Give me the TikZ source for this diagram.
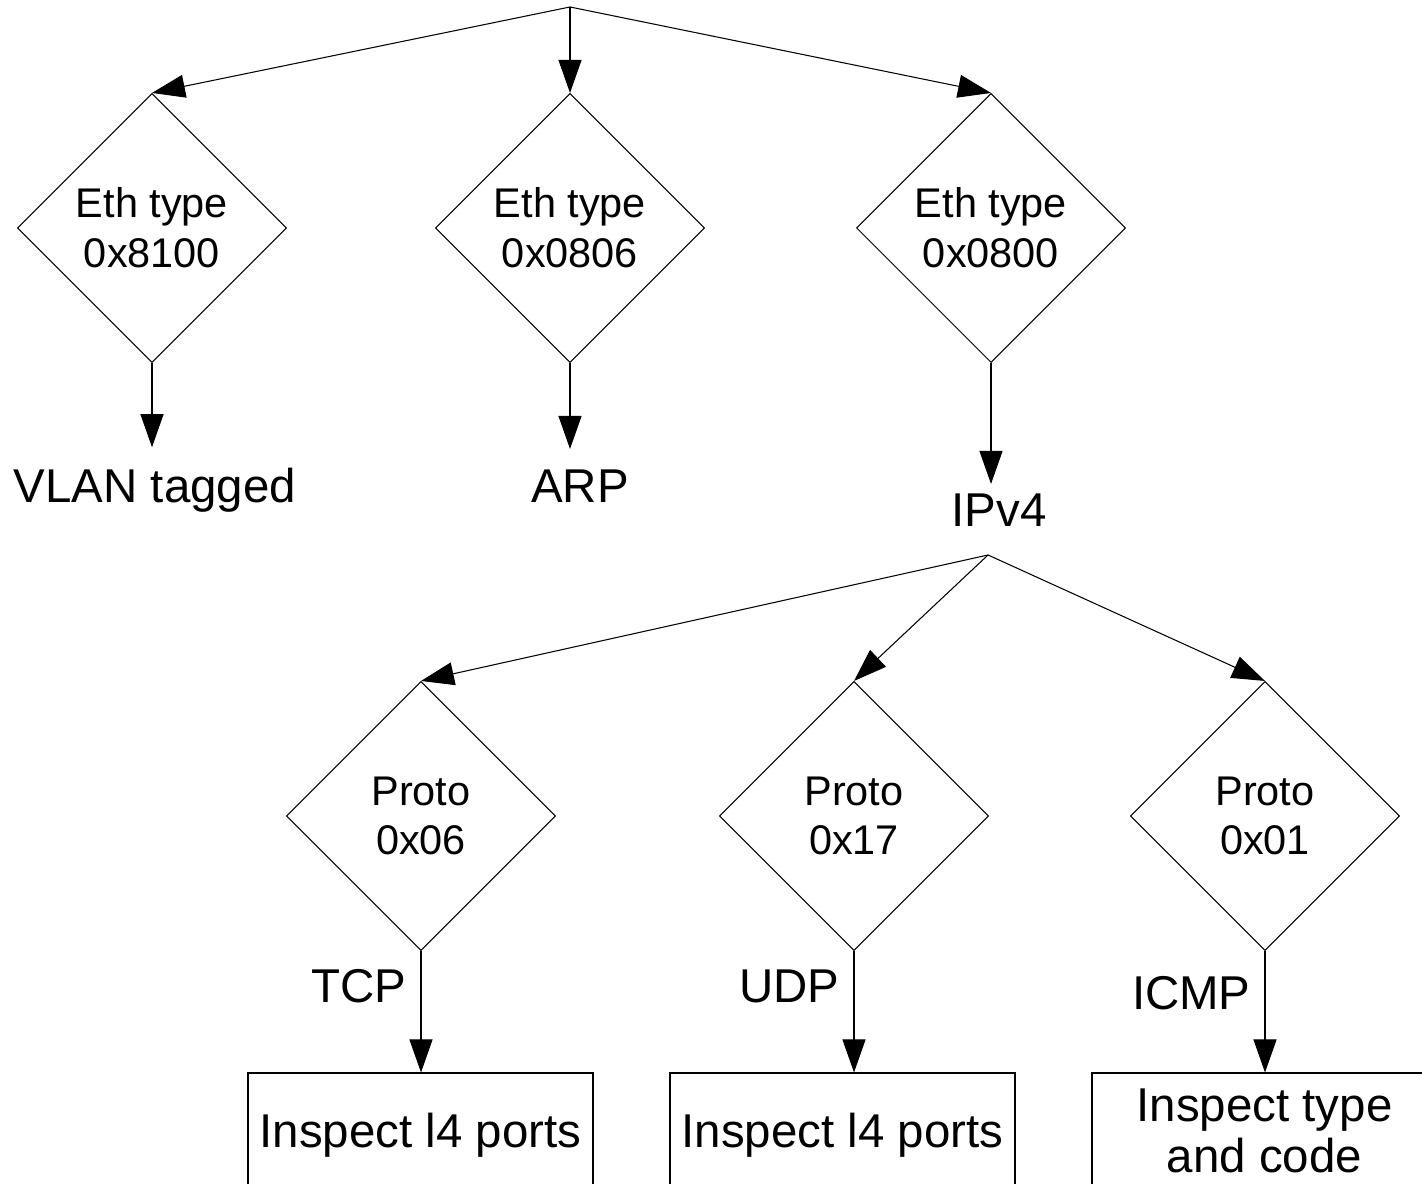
\documentclass[tikz,border=0pt]{standalone}
\usepackage{fontspec}
\setmainfont{Liberation Sans}
\usetikzlibrary{shapes.geometric,arrows.meta}

\begin{document}
\begin{tikzpicture}[line width=0.6pt,
            test/.style={diamond, draw, aspect=1, minimum width=5.38cm, minimum height=5.38cm, inner sep=0pt, align=center, font=\fontsize{23.6}{28.3}\selectfont},
            action/.style={rectangle, draw, minimum width=6.9cm, minimum height=2.3cm, inner sep=2pt, text depth=0pt, align=center, font=\fontsize{27}{29}\selectfont},
            outcome/.style={anchor=base, font=\fontsize{27}{29}\selectfont},
            branch/.style={font=\fontsize{27}{29}\selectfont},
            flow/.style={-{Triangle[length=6.6mm,width=4.6mm]}}]
            \useasboundingbox (0, 0) rectangle (28.44, 23.68);
            \coordinate (root) at (11.4, 23.54);
            \node[test] (eth1) at (3.04, 19.12) {Eth type\\0x8100};
            \node[test] (eth2) at (11.4, 19.12) {Eth type\\0x0806};
            \node[test] (eth3) at (19.82, 19.12) {Eth type\\0x0800};
            \node[outcome] (vlan) at (3.1, 13.62) {VLAN tagged};
            \node[outcome] (arp) at (11.6, 13.62) {ARP};
            \node[outcome] (ipv4) at (19.98, 13.14) {IPv4};
            \coordinate (split) at (19.76, 12.58);
            \node[test] (p06) at (8.42, 7.36) {Proto\\0x06};
            \node[test] (p17) at (17.08, 7.36) {Proto\\0x17};
            \node[test] (p01) at (25.3, 7.36) {Proto\\0x01};
            \node[action] (ports1) at (8.41, 1.07) {Inspect l4 ports};
            \node[action] (ports2) at (16.85, 1.07) {Inspect l4 ports};
            \node[action] (typecode) at (25.29, 1.07) {Inspect type\\and code};
            \draw[flow] (root) -- (eth1.north);
            \draw[flow] (root) -- (eth2.north);
            \draw[flow] (root) -- (eth3.north);
            \draw[flow, shorten >=3mm] (eth1.south) -- (eth1.south |- vlan.north);
            \draw[flow, shorten >=3mm] (eth2.south) -- (eth2.south |- arp.north);
            \draw[flow, shorten >=0.8mm] (eth3.south) -- (eth3.south |- ipv4.north);
            \draw[flow] (split) -- (p06.north);
            \draw[flow] (split) -- (p17.north);
            \draw[flow] (split) -- (p01.north);
            \draw[flow] (p06.south) -- (p06.south |- ports1.north) node[branch, left=1.6mm, pos=.29] (tcp) {TCP};
            \draw[flow] (p17.south) -- (p17.south |- ports2.north) node[branch, left=1.6mm, pos=.29] (udp) {UDP};
            \draw[flow] (p01.south) -- (p01.south |- typecode.north) node[branch, left=1.6mm, pos=.35] (icmp) {ICMP};
        \end{tikzpicture}
\end{document}
